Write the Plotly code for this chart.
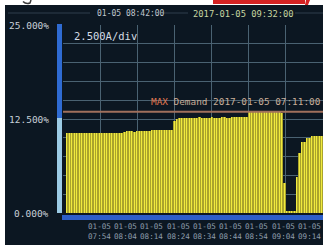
import plotly.graph_objects as go

# ---------------- data ----------------
demand_pct = (
    [0.0]
    + [10.6, 10.6, 10.7, 10.6, 10.6, 10.6, 10.7, 10.6, 10.6, 10.6, 10.6, 10.7,
       10.6, 10.6, 10.6, 10.6, 10.7, 10.6, 10.6, 10.6, 10.7, 10.7, 10.7]        # slots 1-23
    + [10.8, 10.9, 10.9, 10.9, 10.8, 10.9, 10.9, 10.9, 10.9, 10.9]            # 24-33
    + [10.9, 11.0, 11.0, 11.0, 11.0, 11.0, 11.1, 11.0, 11.1, 11.1]            # 34-43
    + [12.3, 12.5]                                                            # 44-45
    + [12.6, 12.7, 12.7, 12.7, 12.6, 12.7, 12.7, 12.7, 12.8, 12.7, 12.7, 12.7,
       12.7, 12.8, 12.7, 12.7, 12.7, 12.8, 12.8, 12.7, 12.7, 12.8, 12.8, 12.8,
       12.8, 12.8, 12.8, 12.8]                                                # 46-73
    + [13.4, 13.4, 13.4, 13.45, 13.4, 13.4, 13.4, 13.4, 13.4, 13.4, 13.4, 13.4,
       13.4, 13.3]                                                            # 74-87
    + [4.0]                                                                   # 88
    + [0.3, 0.3, 0.3, 0.3]                                                    # 89-92
    + [4.8, 8.0, 9.4, 9.4, 10.0, 10.0, 10.2, 10.2, 10.2, 10.3, 10.3]          # 93-103
)
slots = list(range(len(demand_pct)))
max_demand = 13.45

x_tick_slots = [14, 24.5, 35, 45.5, 56, 66.5, 77, 87.5, 98]
x_tick_dates = ["01-05"] * 9
x_tick_times = ["07:54", "08:04", "08:14", "08:24", "08:34", "08:44", "08:54", "09:04", "09:14"]

y_label_vals = [25, 12.5, 0]
y_label_text = ["25.000%", "12.500%", "0.000%"]
y_grid_step = 2.5

cursor_time = "01-05 08:42:00"
now_time = "2017-01-05 09:32:00"
scale_text = "2.500A/div"
max_text_a = "MAX"
max_text_b = " Demand 2017-01-05 07:11:00"

# ---------------- geometry helpers ----------------
W, H = 323, 245
L, R, T, B = 63, 323, 25, 213


def px(x):
    return (x - L) / (R - L)


def py(y):
    return (B - y) / (B - T)


n_slots = len(slots)
xr = [-0.5, n_slots - 0.5]

BG = "#0c1722"
MONO = "DejaVu Sans Mono"

fig = go.Figure()
fig.add_trace(go.Bar(x=slots, y=demand_pct, width=1.0,
                     marker=dict(color="#aaa42c", line=dict(width=0)),
                     hoverinfo="skip"))
fig.add_trace(go.Bar(x=slots, y=demand_pct, width=0.55,
                     marker=dict(color="#f0ea3e", line=dict(width=0)),
                     hoverinfo="skip"))

shapes = []
# white frame strips (outside the screen) + red bar
shapes.append(dict(type="rect", xref="paper", yref="paper", x0=px(0), x1=px(5),
                   y0=py(H), y1=py(0), fillcolor="white", line=dict(width=0), layer="above"))
shapes.append(dict(type="rect", xref="paper", yref="paper", x0=px(0), x1=px(W),
                   y0=py(5), y1=py(0), fillcolor="white", line=dict(width=0), layer="above"))
shapes.append(dict(type="rect", xref="paper", yref="paper", x0=px(213), x1=px(305),
                   y0=py(4), y1=py(0), fillcolor="#d42222", line=dict(width=0), layer="above"))
shapes.append(dict(type="path", xref="paper", yref="paper",
                   path=f"M {px(306)} {py(0)} L {px(310)} {py(0)} L {px(308)} {py(5)} L {px(305)} {py(5)} Z",
                   fillcolor="#d42222", line=dict(width=0), layer="above"))
# tail of a printed letter above the screen (photo background)
shapes.append(dict(type="path", xref="paper", yref="paper",
                   path=(f"M {px(23)} {py(1.5)} Q {px(26)} {py(4.5)} {px(30)} {py(3)} "
                         f"L {px(31)} {py(0)}"),
                   line=dict(color="#3a3a3a", width=1.5), layer="above"))
# faint title-bar lines
for a, b in [(8, 90), (162, 188), (295, 323)]:
    shapes.append(dict(type="line", xref="paper", yref="paper", x0=px(a), x1=px(b),
                       y0=py(13), y1=py(13), line=dict(color="#2e3e4c", width=1)))
# left level bar
shapes.append(dict(type="rect", xref="paper", yref="paper", x0=px(57), x1=px(62),
                   y0=py(118), y1=py(24), fillcolor="#2f6bd2", line=dict(width=0)))
shapes.append(dict(type="rect", xref="paper", yref="paper", x0=px(57), x1=px(62),
                   y0=py(213), y1=py(118), fillcolor="#9ccbe4", line=dict(width=0)))
# bottom blue bar
shapes.append(dict(type="rect", xref="paper", yref="paper", x0=px(62), x1=px(W),
                   y0=py(220), y1=py(215), fillcolor="#2c5ec8", line=dict(width=0)))
# max demand line
shapes.append(dict(type="line", xref="paper", yref="y", x0=0, x1=1,
                   y0=max_demand, y1=max_demand, line=dict(color="#a0705c", width=2),
                   layer="above"))

ann = []
for v, t in zip(y_label_vals, y_label_text):
    ann.append(dict(x=px(51), xref="paper", y=v, yref="y", text=t, showarrow=False,
                    xanchor="right", yanchor="middle",
                    font=dict(family=MONO, size=9.5, color="#c8d0d8")))
for s, d, t in zip(x_tick_slots, x_tick_dates, x_tick_times):
    ann.append(dict(x=s, xref="x", y=py(231), yref="paper", text=f"{d}<br>{t}",
                    showarrow=False, xanchor="center", yanchor="middle",
                    font=dict(family=MONO, size=7.6, color="#8c9cab")))
ann.append(dict(x=px(95), xref="paper", y=py(14), yref="paper", text=cursor_time,
                showarrow=False, xanchor="left", yanchor="middle",
                font=dict(family=MONO, size=8, color="#c0c8d0")))
ann.append(dict(x=px(191), xref="paper", y=py(14), yref="paper", text=now_time,
                showarrow=False, xanchor="left", yanchor="middle",
                font=dict(family=MONO, size=8.8, color="#c6d6a0")))
ann.append(dict(x=px(72), xref="paper", y=py(36), yref="paper", text=scale_text,
                showarrow=False, xanchor="left", yanchor="middle",
                font=dict(family=MONO, size=10.5, color="#d4dce4")))
ann.append(dict(x=px(149), xref="paper", y=py(101), yref="paper",
                text=f"<span style='color:#e07850'>{max_text_a}</span>{max_text_b}",
                showarrow=False, xanchor="left", yanchor="middle",
                font=dict(family=MONO, size=9.4, color="#c8ae98")))

fig.update_layout(
    width=W, height=H,
    margin=dict(l=L, r=W - R, t=T, b=H - B, pad=0),
    paper_bgcolor=BG, plot_bgcolor=BG,
    barmode="overlay", bargap=0, showlegend=False,
    xaxis=dict(range=xr, tickmode="linear", tick0=xr[0], dtick=n_slots / 7,
               showgrid=True, gridcolor="#4a6272", gridwidth=1,
               showticklabels=False, zeroline=False, showline=False, ticks=""),
    yaxis=dict(range=[0, 25], tickmode="linear", tick0=0, dtick=y_grid_step,
               showgrid=True, gridcolor="#4a6272", gridwidth=1,
               showticklabels=False, zeroline=False, showline=False, ticks=""),
    shapes=shapes, annotations=ann, hovermode=False,
)

fig.write_html("out.html", config={"displayModeBar": False, "staticPlot": True},
               post_script="document.body.style.margin='0px';document.body.style.overflow='hidden';")
